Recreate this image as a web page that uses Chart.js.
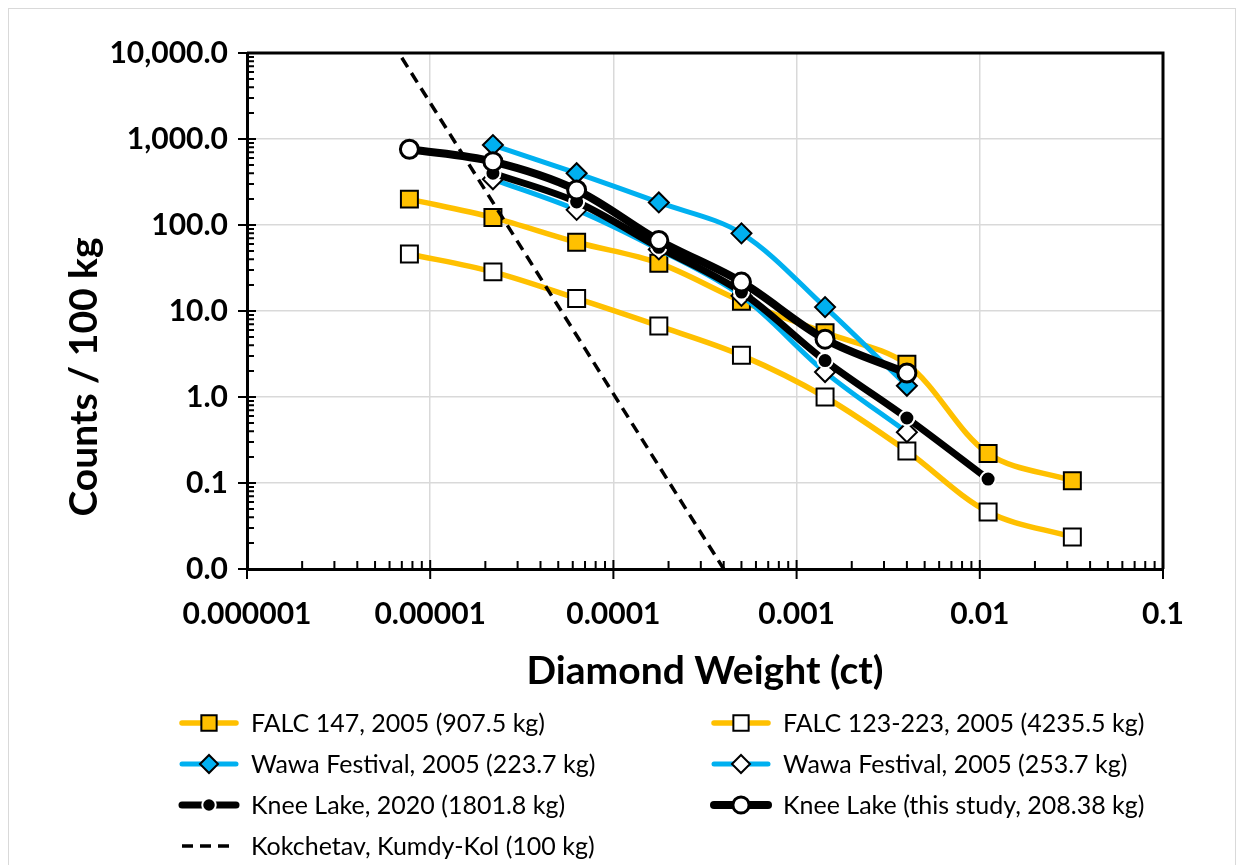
<!DOCTYPE html>
<html>
<head>
<meta charset="utf-8">
<script src="https://cdn.jsdelivr.net/npm/chart.js@4.4.1/dist/chart.umd.min.js"></script>
<style>
  html, body { margin: 0; padding: 0; background: #fff; }
  #wrap { position: relative; width: 1244px; height: 865px; overflow: hidden; }
  #frame { position: absolute; left: 8px; top: 8px; width: 1228px; height: 900px;
           border: 1px solid #d9d9d9; box-sizing: border-box; pointer-events: none; }
  canvas { position: absolute; left: 0; top: 0; }
</style>
</head>
<body>
<div id="wrap">
  <canvas id="chart" width="1244" height="865"></canvas>
  <div id="frame"></div>
</div>
<script>
// diamond weight classes (ct), shared by all sieve series
const weightClasses = [7.7e-6, 2.2e-5, 6.3e-5, 1.77e-4, 5.0e-4, 1.43e-3, 4.0e-3, 1.11e-2, 3.2e-2];

// counts / 100 kg per class (null = no value)
const falc147   = [200, 122, 63, 36, 13, 5.6, 2.4, 0.22, 0.106];
const falc123   = [46, 28.5, 14, 6.7, 3.05, 1.0, 0.235, 0.046, 0.0235];
const wawa2237  = [null, 850, 400, 183, 80, 11.1, 1.35];
const wawa2537  = [null, 340, 150, 52, 15, 1.95, 0.39];
const knee2020  = [null, 400, 185, 55, 16.6, 2.65, 0.57, 0.111];
const kneeStudy = [760, 545, 255, 66, 21.7, 4.7, 1.9];

// Kokchetav reference line
const kokX = [7.0e-6, 4.0e-4];
const kokY = [8800, 0.01];

// axis ticks
const xTicks = [1e-6, 1e-5, 1e-4, 1e-3, 1e-2, 1e-1];
const xTickLabels = ['0.000001', '0.00001', '0.0001', '0.001', '0.01', '0.1'];
const yTicks = [0.01, 0.1, 1, 10, 100, 1000, 10000];
const yTickLabels = ['0.0', '0.1', '1.0', '10.0', '100.0', '1,000.0', '10,000.0'];

const FONT = 'Lato, "Open Sans", sans-serif';

function pts(vals) {
  return weightClasses.map((x, i) => ({ x: x, y: vals[i] })).filter(p => p.y != null);
}

const datasets = [
  { label: 'FALC 147, 2005 (907.5 kg)', data: pts(falc147), borderColor: '#FFC000', borderWidth: 5.5,
    pointStyle: 'rect', pointRadius: 12, pointBackgroundColor: '#FFC000', pointBorderColor: '#000', pointBorderWidth: 2, order: 7 },
  { label: 'FALC 123-223, 2005 (4235.5 kg)', data: pts(falc123), borderColor: '#FFC000', borderWidth: 5.5,
    pointStyle: 'rect', pointRadius: 12, pointBackgroundColor: '#fff', pointBorderColor: '#000', pointBorderWidth: 2, order: 6 },
  { label: 'Wawa Festival, 2005 (223.7 kg)', data: pts(wawa2237), borderColor: '#00B0F0', borderWidth: 5,
    pointStyle: 'rectRot', pointRadius: 10, pointBackgroundColor: '#00B0F0', pointBorderColor: '#000', pointBorderWidth: 2, order: 5 },
  { label: 'Wawa Festival, 2005 (253.7 kg)', data: pts(wawa2537), borderColor: '#00B0F0', borderWidth: 5,
    pointStyle: 'rectRot', pointRadius: 10, pointBackgroundColor: '#fff', pointBorderColor: '#000', pointBorderWidth: 2, order: 4 },
  { label: 'Knee Lake, 2020 (1801.8 kg)', data: pts(knee2020), borderColor: '#000', borderWidth: 7,
    pointStyle: 'circle', pointRadius: 7.5, pointBackgroundColor: '#000', pointBorderColor: '#fff', pointBorderWidth: 2, order: 3 },
  { label: 'Knee Lake (this study, 208.38 kg)', data: pts(kneeStudy), borderColor: '#000', borderWidth: 8,
    pointStyle: 'circle', pointRadius: 9, pointBackgroundColor: '#fff', pointBorderColor: '#000', pointBorderWidth: 3, order: 2 },
  { label: 'Kokchetav, Kumdy-Kol (100 kg)', data: kokX.map((x, i) => ({ x: x, y: kokY[i] })),
    borderColor: '#000', borderWidth: 3.5, borderDash: [11, 7], pointRadius: 0, tension: 0, order: 1 }
];

// minor ticks, inner major ticks, plot box, y title, legend
const decor = {
  id: 'decor',
  beforeDatasetsDraw(chart) {
    const { ctx, chartArea: a, scales: { x, y } } = chart;
    ctx.save();
    ctx.strokeStyle = '#000';
    ctx.lineWidth = 3;
    ctx.beginPath();
    ctx.moveTo(a.left, a.top); ctx.lineTo(a.right, a.top); ctx.lineTo(a.right, a.bottom);
    ctx.stroke();
    ctx.lineWidth = 2;
    ctx.beginPath();
    for (let d = 0; d < yTicks.length; d++) {
      const py = y.getPixelForValue(yTicks[d]);
      ctx.moveTo(a.left - 9, py); ctx.lineTo(a.left + 9, py);
      if (d < yTicks.length - 1) {
        for (let k = 2; k < 10; k++) {
          const p = y.getPixelForValue(yTicks[d] * k);
          ctx.moveTo(a.left, p); ctx.lineTo(a.left + 7, p);
        }
      }
    }
    for (let d = 0; d < xTicks.length; d++) {
      const px = x.getPixelForValue(xTicks[d]);
      ctx.moveTo(px, a.bottom - 9); ctx.lineTo(px, a.bottom + 10);
      if (d < xTicks.length - 1) {
        for (let k = 2; k < 10; k++) {
          const p = x.getPixelForValue(xTicks[d] * k);
          ctx.moveTo(p, a.bottom); ctx.lineTo(p, a.bottom - 8);
        }
      }
    }
    ctx.stroke();
    ctx.restore();
  },
  afterDraw(chart) {
    const ctx = chart.ctx;
    ctx.save();
    ctx.fillStyle = '#000';
    ctx.font = 'bold 39px ' + FONT;
    ctx.translate(84, 377);
    ctx.rotate(-Math.PI / 2);
    ctx.textAlign = 'center';
    ctx.textBaseline = 'middle';
    ctx.fillText('Counts / 100 kg', 0, 0);
    ctx.restore();

    const colX = [209, 741];
    const rowY = [723, 764, 805, 846];
    chart.data.datasets.forEach((ds, i) => {
      const cx = colX[i % 2], cy = rowY[Math.floor(i / 2)];
      ctx.save();
      ctx.strokeStyle = ds.borderColor;
      ctx.lineWidth = ds.borderWidth;
      ctx.lineCap = ds.borderDash ? 'butt' : 'round';
      ctx.setLineDash(ds.borderDash || []);
      ctx.beginPath();
      ctx.moveTo(cx - 27, cy); ctx.lineTo(cx + 27, cy);
      ctx.stroke();
      ctx.setLineDash([]);
      if (ds.pointRadius > 0) {
        ctx.fillStyle = ds.pointBackgroundColor;
        ctx.strokeStyle = ds.pointBorderColor;
        ctx.lineWidth = ds.pointBorderWidth;
        Chart.helpers.drawPoint(ctx, { pointStyle: ds.pointStyle, radius: ds.pointRadius * 0.9,
          rotation: 0, borderWidth: ds.pointBorderWidth }, cx, cy);
      }
      ctx.fillStyle = '#000';
      ctx.font = '25px ' + FONT;
      ctx.textAlign = 'left';
      ctx.textBaseline = 'middle';
      ctx.fillText(ds.label, cx + 42, cy + 1);
      ctx.restore();
    });
  }
};

new Chart(document.getElementById('chart'), {
  type: 'line',
  data: { datasets: datasets },
  plugins: [decor],
  options: {
    responsive: false,
    animation: false,
    layout: { padding: { left: 0, right: 81, top: 53, bottom: 166 } },
    elements: { line: { tension: 0.33 } },
    plugins: { legend: { display: false }, tooltip: { enabled: false } },
    scales: {
      x: {
        type: 'logarithmic', min: 1e-6, max: 0.1,
        afterBuildTicks: s => { s.ticks = xTicks.map(v => ({ value: v })); },
        afterFit: s => { s.height = 130; },
        ticks: { autoSkip: false, maxRotation: 0, padding: 27, color: '#000',
                 font: { family: FONT, size: 30, weight: 'bold' },
                 callback: (v, i) => xTickLabels[i] },
        grid: { color: '#d9d9d9', lineWidth: 1.5, drawTicks: false },
        border: { color: '#000', width: 3 },
        title: { display: true, text: 'Diamond Weight (ct)', color: '#000', padding: { top: 0, bottom: 4 },
                 font: { family: FONT, size: 39, weight: 'bold' } }
      },
      y: {
        type: 'logarithmic', min: 0.01, max: 10000,
        afterBuildTicks: s => { s.ticks = yTicks.map(v => ({ value: v })); },
        afterFit: s => { s.width = 247; },
        ticks: { autoSkip: false, padding: 19, color: '#000',
                 font: { family: FONT, size: 30, weight: 'bold' },
                 callback: (v, i) => yTickLabels[i] },
        grid: { color: '#d9d9d9', lineWidth: 1.5, drawTicks: false },
        border: { color: '#000', width: 3 }
      }
    }
  }
});
</script>
</body>
</html>
